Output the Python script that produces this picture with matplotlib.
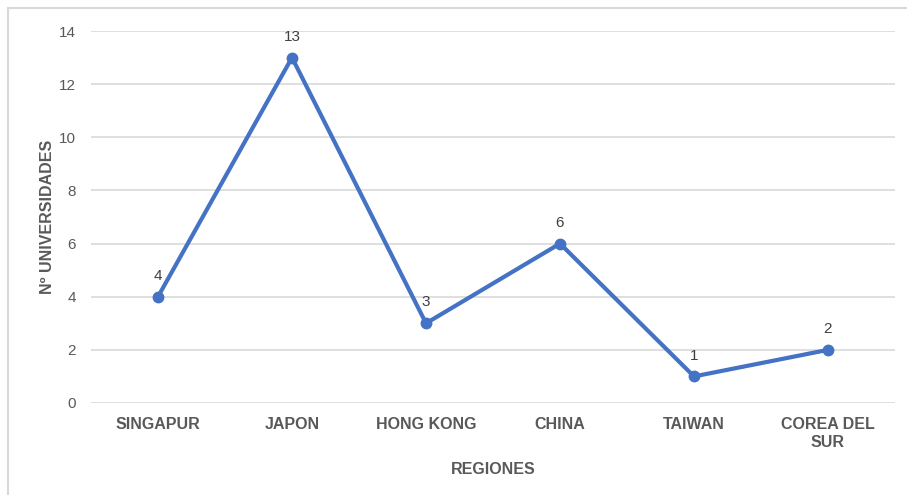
import matplotlib
matplotlib.use('Agg')
import matplotlib.pyplot as plt
from matplotlib.patches import Rectangle

# Datos del grafico
regiones = ['SINGAPUR', 'JAPON', 'HONG KONG', 'CHINA', 'TAIWAN', 'COREA DEL\nSUR']
universidades = [4, 13, 3, 6, 1, 2]
y_ticks = [0, 2, 4, 6, 8, 10, 12, 14]

plt.rcParams['font.family'] = ['Liberation Sans', 'DejaVu Sans']

fig = plt.figure(figsize=(9.07, 4.95), dpi=100)
ax = fig.add_axes([91 / 907, 1 - 403 / 495, 804 / 907, 372 / 495])

# borde gris del grafico
fig.patches.append(Rectangle((8 / 907, -0.1), 1.2, 1 - 8 / 495 + 0.1,
                             transform=fig.transFigure, fill=False,
                             edgecolor='#d9d9d9', linewidth=1.5))

x = range(len(regiones))
ax.plot(x, universidades, color='#4472C4', linewidth=3, marker='o',
        markersize=7.5, solid_capstyle='round', zorder=3)

for xi, v in zip(x, universidades):
    ax.annotate(str(v), (xi, v), xytext=(0, 10), textcoords='offset points',
                ha='center', va='bottom', fontsize=11, color='#404040')

ax.set_xlim(-0.5, len(regiones) - 0.5)
ax.set_ylim(0, 14)
ax.set_yticks(y_ticks)
ax.set_xticks(list(x))
ax.set_xticklabels(regiones, fontsize=11.5, fontweight='bold', color='#595959',
                   linespacing=1.3)
ax.tick_params(axis='y', labelsize=11, labelcolor='#595959', length=0, pad=11)
ax.tick_params(axis='x', length=0, pad=10)
ax.grid(axis='y', color='#d9d9d9', linewidth=1.2)
ax.set_axisbelow(True)
for s in ax.spines.values():
    s.set_visible(False)

ax.set_xlabel('REGIONES', fontsize=11.5, fontweight='bold', color='#595959',
              labelpad=8)
ax.set_ylabel('Nº UNIVERSIDADES', fontsize=11.5, fontweight='bold',
              color='#595959', labelpad=3)

fig.savefig('out.png', dpi=100)
